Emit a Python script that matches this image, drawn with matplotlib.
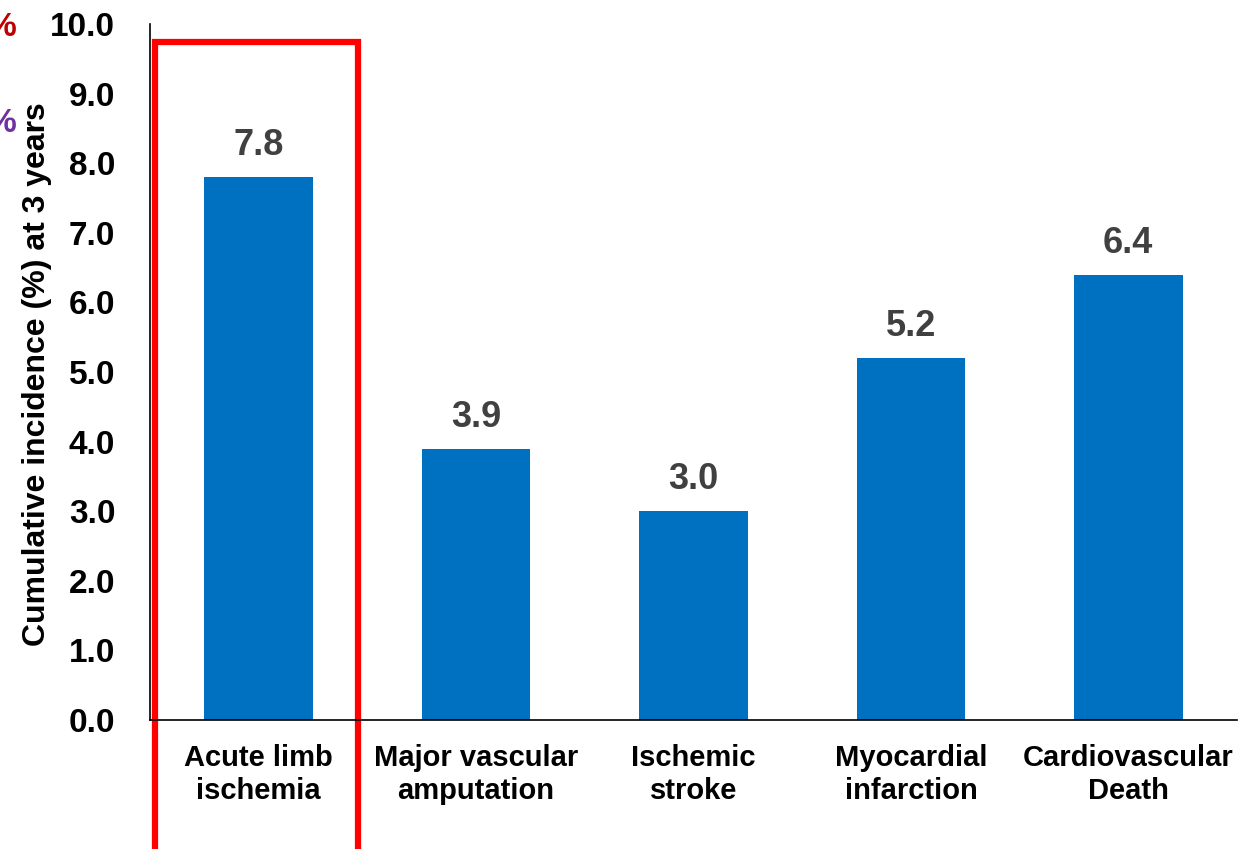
import matplotlib.pyplot as plt
from matplotlib.patches import Rectangle

plt.rcParams['font.family'] = ['Liberation Sans', 'DejaVu Sans']

# outcome categories and 3-year cumulative incidence (%)
categories = ["Acute limb\nischemia", "Major vascular\namputation", "Ischemic\nstroke",
              "Myocardial\ninfarction", "Cardiovascular\nDeath"]
incidence = [7.8, 3.9, 3.0, 5.2, 6.4]
y_ticks = [0.0, 1.0, 2.0, 3.0, 4.0, 5.0, 6.0, 7.0, 8.0, 9.0, 10.0]

fig = plt.figure(figsize=(12.42, 8.49), dpi=100)
ax = fig.add_axes([150 / 1242, 129 / 849, 1087 / 1242, 696 / 849])

x = range(len(categories))
bars = ax.bar(x, incidence, width=0.5, color='#0070C0')

for xi, v in zip(x, incidence):
    ax.text(xi, v + 0.2, f"{v:.1f}", ha='center', va='bottom',
            fontsize=26, fontweight='bold', color='#404040')

ax.set_xlim(-0.5, 4.5)
ax.set_ylim(0, 10)
ax.set_yticks(y_ticks)
ax.set_yticklabels([f"{t:.1f}" for t in y_ticks])
ax.set_xticks(list(x))
ax.set_xticklabels(categories)
ax.tick_params(axis='y', length=0, pad=25, labelsize=24)
ax.tick_params(axis='x', length=0, pad=17, labelsize=21)
for lbl in ax.get_xticklabels() + ax.get_yticklabels():
    lbl.set_fontweight('bold')
for lbl in ax.get_xticklabels():
    lbl.set_linespacing(1.25)

ax.spines['top'].set_visible(False)
ax.spines['right'].set_visible(False)
ax.spines['left'].set_linewidth(1.2)
ax.spines['bottom'].set_linewidth(1.2)

fig.text(37 / 1242, 1 - 374 / 849, "Cumulative incidence (%) at 3 years",
         rotation=90, ha='center', va='center', fontsize=23, fontweight='bold')

# highlight box around the first outcome
ax.add_patch(Rectangle((-0.477, -1.9), 0.933, 9.74 + 1.9, fill=False,
                       edgecolor='#FF0000', linewidth=4.5, clip_on=False))

# cut-off percentages at the left margin
fig.text(16 / 1242, 1 - 28 / 849, "%", ha='right', va='center', fontsize=24,
         fontweight='bold', color='#C00000')
fig.text(16 / 1242, 1 - 123 / 849, "%", ha='right', va='center', fontsize=24,
         fontweight='bold', color='#7030A0')

fig.savefig('out.png', dpi=100)
